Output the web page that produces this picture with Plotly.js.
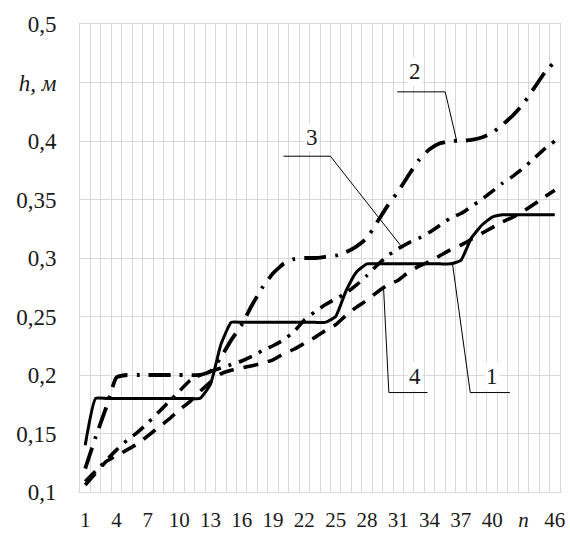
<!DOCTYPE html>
<html>
<head>
<meta charset="utf-8">
<script src="https://cdn.plot.ly/plotly-3.0.1.min.js"></script>
<style>
  html, body { margin: 0; padding: 0; background: #fff; }
  #chart { width: 570px; height: 533px; }
</style>
</head>
<body>
<div id="chart"></div>
<script>
// Step number n along the horizontal axis
const stepN = [1,2,3,4,5,6,7,8,9,10,11,12,13,14,15,16,17,18,19,20,21,22,23,
               24,25,26,27,28,29,30,31,32,33,34,35,36,37,38,39,40,41,42,43,44,45,46];

// Depth h, m for the four variants
const curve1 = [0.140,0.180,0.180,0.180,0.180,0.180,0.180,0.180,0.180,0.180,0.180,0.180,
                0.192,0.226,0.245,0.245,0.245,0.245,0.245,0.245,0.245,0.245,0.245,0.245,
                0.250,0.272,0.288,0.295,0.295,0.295,0.295,0.295,0.295,0.295,0.295,0.295,
                0.298,0.317,0.328,0.335,0.337,0.337,0.337,0.337,0.337,0.337];
const curve2 = [0.120,0.147,0.172,0.198,0.200,0.200,0.200,0.200,0.200,0.200,0.200,0.200,
                0.203,0.215,0.230,0.243,0.260,0.275,0.287,0.295,0.299,0.300,0.300,0.301,
                0.302,0.305,0.310,0.317,0.331,0.345,0.357,0.371,0.384,0.393,0.398,0.400,
                0.400,0.401,0.403,0.407,0.414,0.422,0.432,0.445,0.458,0.468];
const curve3 = [0.109,0.118,0.127,0.136,0.144,0.151,0.159,0.168,0.177,0.186,0.195,0.200,
                0.203,0.206,0.209,0.212,0.216,0.221,0.225,0.230,0.237,0.247,0.254,0.260,
                0.265,0.270,0.277,0.285,0.294,0.302,0.308,0.313,0.317,0.322,0.328,0.334,
                0.338,0.344,0.350,0.357,0.364,0.370,0.377,0.385,0.393,0.400];
const curve4 = [0.106,0.116,0.126,0.131,0.136,0.141,0.148,0.155,0.162,0.170,0.177,0.186,
                0.194,0.201,0.204,0.206,0.208,0.210,0.213,0.218,0.222,0.227,0.232,0.238,
                0.243,0.251,0.258,0.264,0.271,0.277,0.281,0.288,0.293,0.297,0.302,0.307,
                0.311,0.316,0.321,0.326,0.331,0.335,0.340,0.346,0.352,0.358];

// Axis tick positions and texts
const xTickVals = [1,4,7,10,13,16,19,22,25,28,31,34,37,40,43,46];
const xTickText = ['1','4','7','10','13','16','19','22','25','28','31','34','37','40','<i>n</i>','46'];
const yTickVals = [0.1,0.15,0.2,0.25,0.3,0.35,0.4,0.45,0.5];
const yTickText = ['0,1','0,15','0,2','0,25','0,3','0,35','0,4','<i>h, м</i>','0,5'];

// Curve labels
const curveLabels = ['1','2','3','4'];

const serif = '"Times New Roman", "Liberation Serif", Times, serif';
const ink = '#1a1a1a';

function lineTrace(y, width, dash) {
  return {
    x: stepN, y: y, type: 'scatter', mode: 'lines',
    line: {color: '#000', width: width, dash: dash, shape: 'spline', smoothing: 0.45},
    hoverinfo: 'skip', showlegend: false
  };
}

const traces = [
  lineTrace(curve4, 3.6, '15px,10px'),
  lineTrace(curve3, 3.6, '14px,8px,3px,8px'),
  lineTrace(curve2, 3.8, '22px,9px,3px,9px'),
  lineTrace(curve1, 3.0, 'solid')
];

// Leader lines: label shelf, elbow, then to the curve
function leader(pts) {
  let d = 'M ' + pts[0][0] + ',' + pts[0][1];
  for (let i = 1; i < pts.length; i++) d += ' L ' + pts[i][0] + ',' + pts[i][1];
  return {type: 'path', xref: 'x', yref: 'y', path: d,
          line: {color: '#000', width: 1}, layer: 'above'};
}

const shapes = [
  leader([[30.9, 0.442], [35.5, 0.442], [36.6, curve2[35]]]),
  leader([[20.0, 0.387], [24.5, 0.387], [31.2, curve3[30] + 0.003]]),
  leader([[33.8, 0.185], [30.1, 0.185], [29.6, curve4[28] + 0.002]]),
  leader([[41.7, 0.185], [37.9, 0.185], [36.2, curve1[35]]])
];

function label(text, x, y) {
  return {text: text, x: x, y: y, xref: 'x', yref: 'y', showarrow: false,
          bgcolor: '#fff', borderpad: 1,
          font: {family: serif, size: 23, color: ink}};
}

const annotations = [
  label(curveLabels[0], 40.0, 0.199),
  label(curveLabels[1], 32.6, 0.459),
  label(curveLabels[2], 22.7, 0.403),
  label(curveLabels[3], 32.6, 0.199)
];

const layout = {
  width: 570, height: 533,
  margin: {l: 80, r: 10, t: 24, b: 41},
  paper_bgcolor: '#fff', plot_bgcolor: '#fff',
  showlegend: false,
  font: {family: serif, size: 21, color: ink},
  xaxis: {
    range: [0.5, 46.5], tickmode: 'array', tickvals: xTickVals, ticktext: xTickText,
    showgrid: false, zeroline: false,
    showline: true, mirror: true, linecolor: '#d9d9d9', linewidth: 1,
    ticks: 'outside', ticklen: 9, tickcolor: 'rgba(0,0,0,0)',
    tickfont: {family: serif, size: 21, color: ink}
    ,
    minor: {tickmode: 'linear', tick0: 0.5, dtick: 1, showgrid: true,
            gridcolor: '#d9d9d9', gridwidth: 1, ticks: ''}
  },
  yaxis: {
    range: [0.1, 0.5], tickmode: 'array', tickvals: yTickVals, ticktext: yTickText,
    showgrid: true, gridcolor: '#d9d9d9', gridwidth: 1, zeroline: false,
    showline: true, mirror: true, linecolor: '#d9d9d9', linewidth: 1,
    ticks: 'outside', ticklen: 18, tickcolor: 'rgba(0,0,0,0)',
    tickfont: {family: serif, size: 23, color: ink}
  },
  shapes: shapes,
  annotations: annotations
};

Plotly.newPlot('chart', traces, layout, {staticPlot: true, displayModeBar: false});
</script>
</body>
</html>
